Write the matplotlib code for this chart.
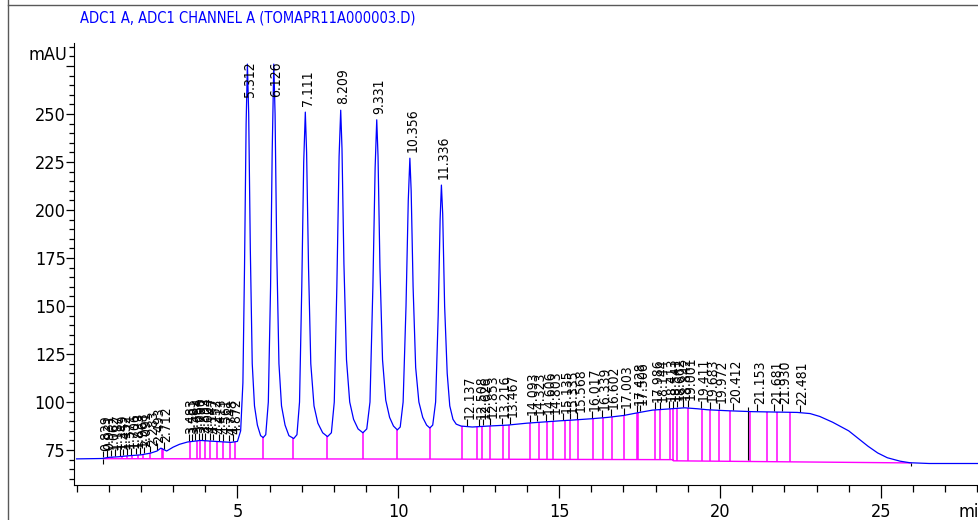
import numpy as np
import matplotlib
matplotlib.use('Agg')
import matplotlib.pyplot as plt
from matplotlib import font_manager
from matplotlib.lines import Line2D
from matplotlib.ticker import MultipleLocator, FixedLocator
import matplotlib.transforms as mtransforms

# ---- data ----
title = 'ADC1 A, ADC1 CHANNEL A (TOMAPR11A000003.D)'

# signal trace (min, mAU)
trace_t = [0.00, 0.80, 1.00, 1.30, 1.60, 2.00, 2.30, 2.50, 2.62, 2.80, 3.00, 3.20, 3.45, 3.85, 4.30, 4.80, 5.00,
           5.10, 5.17, 5.22, 5.27, 5.31, 5.35, 5.40, 5.46, 5.53, 5.62, 5.72, 5.80,
           5.88, 5.96, 6.03, 6.08, 6.13, 6.17, 6.22, 6.29, 6.37, 6.48, 6.60, 6.75,
           6.85, 6.93, 7.00, 7.06, 7.11, 7.15, 7.21, 7.28, 7.38, 7.50, 7.65, 7.80,
           7.92, 8.01, 8.09, 8.16, 8.21, 8.25, 8.31, 8.39, 8.49, 8.61, 8.75, 8.90,
           9.02, 9.12, 9.21, 9.28, 9.33, 9.37, 9.43, 9.51, 9.61, 9.73, 9.85, 9.97,
           10.06, 10.15, 10.24, 10.31, 10.36, 10.40, 10.46, 10.54, 10.64, 10.76, 10.88, 10.98,
           11.07, 11.16, 11.24, 11.30, 11.34, 11.38, 11.44, 11.52, 11.60, 11.70, 11.80, 11.95,
           12.30, 12.80, 13.40, 14.00, 14.40, 15.00, 15.40, 16.00, 16.50, 17.00, 17.50, 17.90,
           18.50, 18.90, 19.30, 19.60, 20.20, 21.00, 21.80, 22.40, 22.80, 23.10, 23.50, 24.00,
           24.30, 24.60, 24.90, 25.20, 25.60, 25.90, 26.50, 27.50, 28.10]
trace_y = [70.4, 70.6, 71.2, 71.5, 72.0, 72.5, 73.4, 74.5, 76.0, 74.5, 76.5, 78.0, 79.2, 80.0, 79.5, 79.0, 79.5,
           85, 110, 170, 245, 276, 250, 180, 120, 98, 88, 82.5, 81.5,
           83, 100, 160, 230, 276, 250, 180, 120, 98, 88, 82.5, 81,
           83, 100, 160, 225, 251, 230, 170, 120, 98, 89, 84, 82,
           84, 100, 160, 228, 252, 232, 172, 122, 100, 91, 86, 84,
           86, 100, 160, 222, 247, 228, 170, 122, 101, 92, 87.5, 85.5,
           87, 100, 150, 205, 227, 210, 160, 118, 100, 92, 88, 86.5,
           88, 100, 145, 195, 213, 198, 150, 115, 98, 91, 88.5, 87.5,
           87, 87.5, 88, 89, 89.5, 90.2, 90.6, 91.3, 92, 93, 94.6, 95.8,
           96.5, 97, 96.5, 96, 95.5, 95, 94.8, 94.6, 94, 92.5, 89.5, 85,
           81, 77, 73.5, 71, 69.2, 68.4, 68.0, 68.0, 68.0]

# integration baseline
base_t = [0.83, 11.00, 18.55, 18.55, 25.93]
base_y = [70.5, 70.3, 70.0, 69.4, 68.3]

# labelled peaks
major_rt = [5.312, 6.126, 7.111, 8.209, 9.331, 10.356, 11.336]
major_h = [276, 276, 251, 252, 247, 227, 213]
minor_rt = [0.829, 0.931, 1.062, 1.187, 1.349, 1.452, 1.571, 1.706, 1.833, 1.968, 2.091, 2.283, 2.493, 2.712,
            3.483, 3.581, 3.684, 3.790, 3.893, 4.004, 4.147, 4.252, 4.413, 4.561, 4.748, 4.872,
            12.137, 12.508, 12.626, 12.853, 13.216, 13.467, 14.093, 14.323, 14.606, 14.803, 15.135,
            15.335, 15.568, 16.017, 16.339, 16.602, 17.003, 17.428, 17.506, 17.986, 18.144, 18.413,
            18.541, 18.662, 18.842, 19.001, 19.411, 19.683, 19.972, 20.412, 21.153, 21.681, 21.930, 22.481]

# peak boundaries (drop lines)
drop_t = [0.98, 1.09, 1.40, 1.56, 1.71, 1.92, 2.07, 2.28, 2.64, 2.69,
          3.52, 3.73, 3.83, 4.00, 4.15, 4.35, 4.56, 4.77, 4.93,
          5.78, 6.73, 7.78, 8.90, 9.97, 10.98,
          11.99, 12.44, 12.59, 12.85, 13.24, 13.44, 14.10, 14.38, 14.61, 14.82, 15.18, 15.34, 15.58,
          16.06, 16.37, 16.63, 17.03, 17.41, 17.46, 17.98, 18.14, 18.45, 18.55, 18.66, 19.02, 19.43,
          19.69, 19.97, 20.31, 20.94, 21.45, 21.77, 22.18]

# ---- fonts: look for a narrow face, the ChemStation print is very condensed ----
narrow_file = None
for f in font_manager.fontManager.ttflist:
    low = f.fname.lower()
    if ('narrow' in low or 'condensed' in low) and 'bold' not in low and 'oblique' not in low \
            and 'italic' not in low and 'light' not in low and f.name in ('Liberation Sans Narrow', 'DejaVu Sans',
                                                                          'Roboto', 'Open Sans', 'Noto Sans'):
        narrow_file = f.fname
        break

def fp(size):
    if narrow_file:
        return font_manager.FontProperties(fname=narrow_file, size=size)
    return font_manager.FontProperties(family='Liberation Sans', size=size)

BLUE = '#0000ff'
PINK = '#ff00ff'

fig = plt.figure(figsize=(9.79, 5.20), dpi=100)
ax = fig.add_axes([74 / 979, 1 - 485 / 520, 1 - 74 / 979, (485 - 43) / 520])

# baseline + drop lines
ax.plot(base_t, base_y, color=PINK, lw=1.0, zorder=2)
drop_lo = np.interp(drop_t, base_t, base_y)
drop_hi = np.interp(drop_t, trace_t, trace_y)
ax.vlines(drop_t, drop_lo, drop_hi, color=PINK, lw=1.1, zorder=2)
ax.vlines([0.83, 25.93], [67.5, 66.5], [70.5, 68.3], color='black', lw=0.8)
ax.vlines(20.87, 70.0, 97.5, color='black', lw=0.8)

# signal
ax.plot(trace_t, trace_y, color=BLUE, lw=0.9, zorder=3)

# retention time labels
for rt, h in zip(major_rt, major_h):
    ax.annotate(f'{rt:.3f}', (rt, min(h + 3.0, 259)), xytext=(2, 0), textcoords='offset points',
                rotation=90, ha='center', va='bottom', fontproperties=fp(10), zorder=4)

for rt in minor_rt:
    ys = np.interp(rt, trace_t, trace_y)
    ax.vlines(rt, ys + 0.5, ys + 4.0, color='black', lw=0.8)
    ax.annotate(f'{rt:.3f}', (rt, ys + 4.0), xytext=(2, 0), textcoords='offset points',
                rotation=90, ha='center', va='bottom', fontproperties=fp(10), zorder=4)

# axes
ax.set_xlim(-0.08, 28.05)
ax.set_ylim(56.8, 287)
ax.spines['top'].set_visible(False)
ax.spines['right'].set_visible(False)
ax.xaxis.set_major_locator(FixedLocator([5, 10, 15, 20, 25]))
ax.xaxis.set_minor_locator(MultipleLocator(1))
ax.yaxis.set_major_locator(FixedLocator([75, 100, 125, 150, 175, 200, 225, 250, 275]))
ax.yaxis.set_minor_locator(MultipleLocator(5))
ax.set_yticklabels(['75', '100', '125', '150', '175', '200', '225', '250', ''])
ax.tick_params(axis='x', which='major', length=9, width=0.9, pad=4)
ax.tick_params(axis='x', which='minor', length=5, width=0.9)
ax.tick_params(axis='y', which='major', length=6, width=0.9, pad=0)
ax.tick_params(axis='y', which='minor', length=3.5, width=0.9)
for lab in ax.get_xticklabels() + ax.get_yticklabels():
    lab.set_fontproperties(fp(13))

trans = mtransforms.blended_transform_factory(ax.transAxes, ax.transData)
ax.text(-0.008, 280.5, 'mAU', transform=trans, ha='right', va='center', fontproperties=fp(13))
ax.text(27.4, 56.8, 'min', ha='left', va='top', fontproperties=fp(13),
        transform=ax.transData + mtransforms.ScaledTranslation(0, -13 / 72, fig.dpi_scale_trans),
        clip_on=False)

fig.text(80 / 979, 1 - 18 / 520, title, color=BLUE, fontproperties=fp(10.5), ha='left', va='center')

# page frame
fig.add_artist(Line2D([8 / 979, 8 / 979], [0, 1], transform=fig.transFigure, color='0.35', lw=1))
fig.add_artist(Line2D([8 / 979, 1], [1 - 5 / 520, 1 - 5 / 520], transform=fig.transFigure, color='0.35', lw=1))

fig.savefig('out.png', dpi=100)
